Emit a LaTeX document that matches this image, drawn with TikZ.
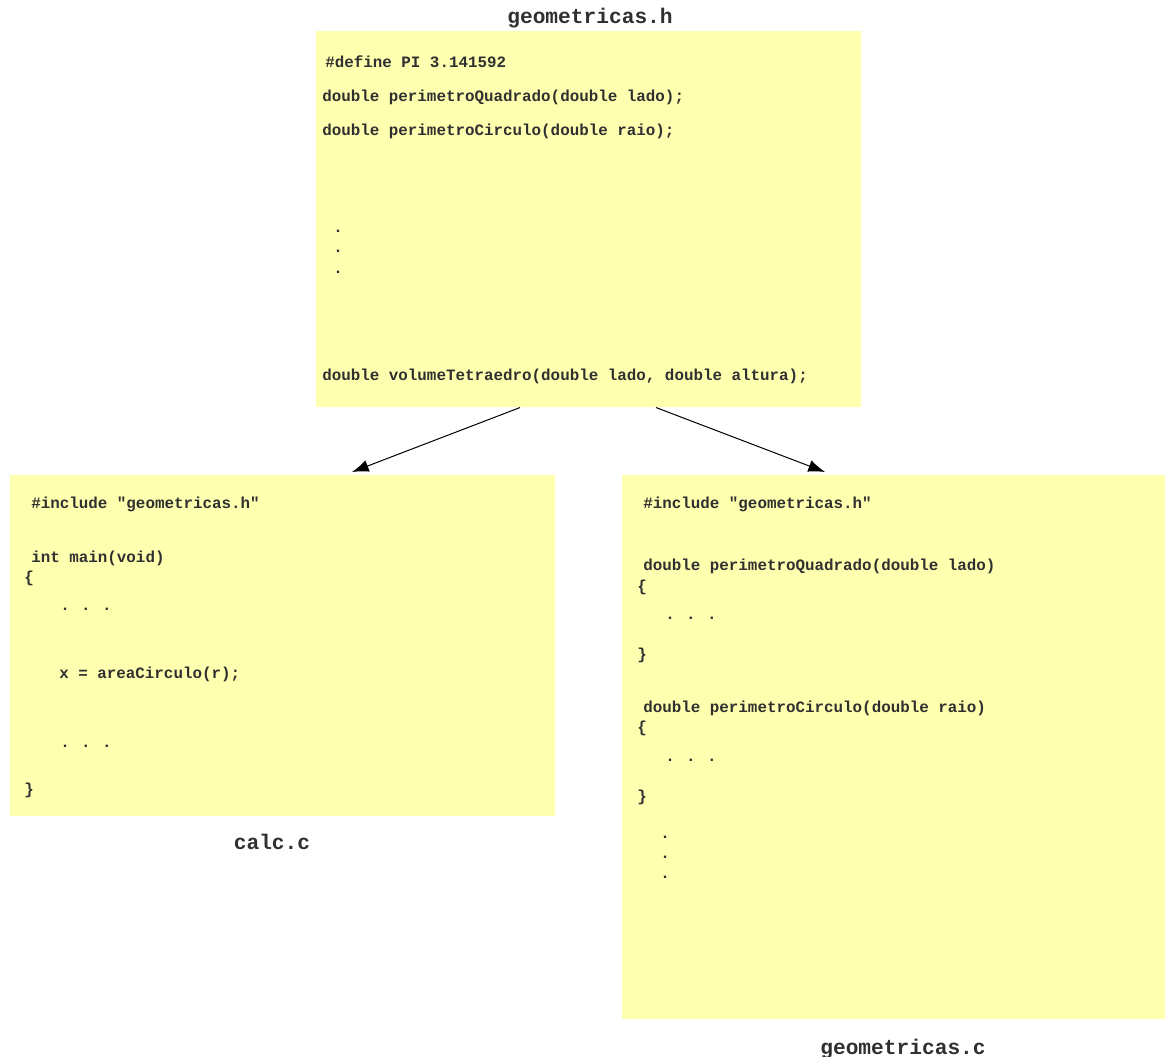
\documentclass[tikz,border=0pt]{standalone}
\usepackage{fontspec}
\setmonofont{Liberation Mono}
\usetikzlibrary{arrows.meta,calc}
\definecolor{notefill}{RGB}{255,255,176}
\definecolor{codeink}{RGB}{48,48,48}
\newcommand{\hdots}{.\kern0.72em.\kern0.72em.}
\begin{document}
\begin{tikzpicture}[x=0.75pt,y=-0.75pt,
  filebox/.style={fill=notefill,draw=none,inner sep=0pt,anchor=north west},
  code/.style={anchor=base west,inner sep=0pt,text=codeink,
    font=\ttfamily\bfseries\fontsize{11.9}{14}\selectfont},
  fname/.style={anchor=base,inner sep=0pt,text=codeink,
    font=\ttfamily\bfseries\fontsize{15.9}{18}\selectfont},
  link/.style={-{Latex[length=12.5pt,width=9pt]},line width=0.75pt,black}]
\useasboundingbox (0,0) rectangle (1165,1057);

% the three source files
\node[filebox,minimum width=545*0.75pt,minimum height=376*0.75pt] (hbox) at (316,31) {};
\node[filebox,minimum width=545*0.75pt,minimum height=341*0.75pt] (cbox) at (10,475) {};
\node[filebox,minimum width=543*0.75pt,minimum height=544*0.75pt] (gbox) at (622,475) {};

% file names
\node[fname] (hname) at (590,23) {geometricas.h};
\node[fname] (cname) at (272,849) {calc.c};
\node[fname] (gname) at (903,1054) {geometricas.c};

% geometricas.h
\node[code] (h1) at (325,67) {\#define PI 3.141592};
\node[code] (h2) at (322,101) {double perimetroQuadrado(double lado);};
\node[code] (h3) at (322,135) {double perimetroCirculo(double raio);};
\node[code] (h4) at (333,232) {.};
\node[code] (h5) at (333,252) {.};
\node[code] (h6) at (333,273) {.};
\node[code] (h7) at (322,380) {double volumeTetraedro(double lado, double altura);};

% calc.c
\node[code] (c1) at (31,508) {\#include "geometricas.h"};
\node[code] (c2) at (31,562) {int main(void)};
\node[code] (c3) at (24,582) {\{};
\node[code] (c4) at (60,610) {\hdots};
\node[code] (c5) at (59,678) {x = areaCirculo(r);};
\node[code] (c6) at (60,747) {\hdots};
\node[code] (c7) at (24,794) {\}};

% geometricas.c
\node[code] (g1) at (643,508) {\#include "geometricas.h"};
\node[code] (g2) at (643,570) {double perimetroQuadrado(double lado)};
\node[code] (g3) at (637,591) {\{};
\node[code] (g4) at (665,619) {\hdots};
\node[code] (g5) at (637,659) {\}};
\node[code] (g6) at (643,712) {double perimetroCirculo(double raio)};
\node[code] (g7) at (637,732) {\{};
\node[code] (g8) at (665,761) {\hdots};
\node[code] (g9) at (637,801) {\}};
\node[code] (g10) at (660,838) {.};
\node[code] (g11) at (660,858) {.};
\node[code] (g12) at (660,878) {.};

% include links
\coordinate (hl) at ($(hbox.south west)+(204,0)$);
\coordinate (hr) at ($(hbox.south west)+(340,0)$);
\coordinate (ct) at ($(cbox.north west)+(342,-3)$);
\coordinate (gt) at ($(gbox.north west)+(203,-3)$);
\draw[link] (hl) -- (ct);
\draw[link] (hr) -- (gt);
\end{tikzpicture}
\end{document}
